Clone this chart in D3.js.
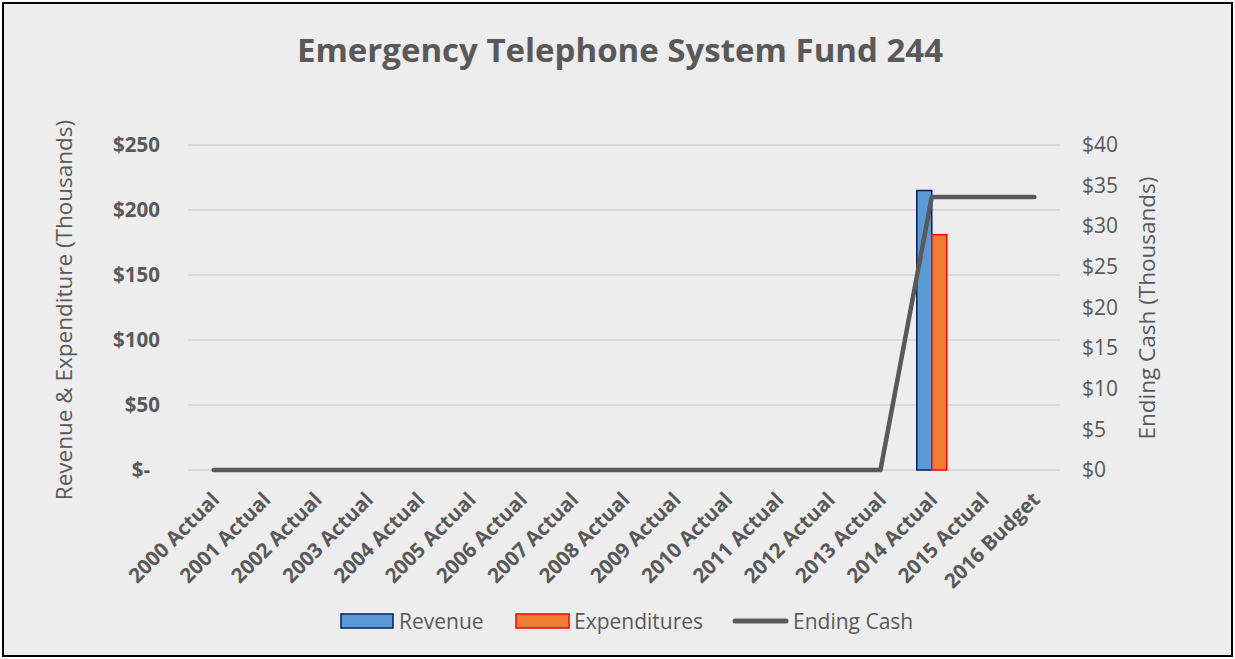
<!DOCTYPE html>
<html>
<head>
<meta charset="utf-8">
<script src="https://cdn.jsdelivr.net/npm/d3@7"></script>
<style>
  body { margin: 0; background: #fff; }
  svg text { font-family: "Open Sans", "Liberation Sans", sans-serif; fill: #595959; }
</style>
</head>
<body>
<div class="canvas"></div>
<script>
var width = 1235,
   height = 659;

// chart data
var categories = ['2000 Actual', '2001 Actual', '2002 Actual', '2003 Actual', '2004 Actual',
   '2005 Actual', '2006 Actual', '2007 Actual', '2008 Actual', '2009 Actual', '2010 Actual',
   '2011 Actual', '2012 Actual', '2013 Actual', '2014 Actual', '2015 Actual', '2016 Budget'];
var revenue = [0, 0, 0, 0, 0, 0, 0, 0, 0, 0, 0, 0, 0, 0, 215, 0, 0];
var expenditures = [0, 0, 0, 0, 0, 0, 0, 0, 0, 0, 0, 0, 0, 0, 181, 0, 0];
var endingCash = [0, 0, 0, 0, 0, 0, 0, 0, 0, 0, 0, 0, 0, 0, 33.6, 33.6, 33.6];
var leftTicks = [0, 50, 100, 150, 200, 250];
var rightTicks = [0, 5, 10, 15, 20, 25, 30, 35, 40];

var plot = {left: 188, right: 1060, top: 145, bottom: 470};

const svg = d3.select('.canvas')
   .append('svg')
   .attr('width', width)
   .attr('height', height);

// background + frame
svg.append('rect')
   .attr('x', 3).attr('y', 3)
   .attr('width', width - 6).attr('height', height - 6)
   .attr('fill', '#ededed')
   .attr('stroke', '#000')
   .attr('stroke-width', 2);

var x = d3.scaleBand()
   .domain(categories)
   .range([plot.left, plot.right])
   .paddingInner(0)
   .paddingOuter(0);

var y = d3.scaleLinear().domain([0, 250]).range([plot.bottom, plot.top]);
var y2 = d3.scaleLinear().domain([0, 40]).range([plot.bottom, plot.top]);

// gridlines
svg.append('g')
   .selectAll('line')
   .data(leftTicks)
   .enter().append('line')
      .attr('x1', plot.left)
      .attr('x2', plot.right)
      .attr('y1', d => y(d))
      .attr('y2', d => y(d))
      .attr('stroke', '#d9d9d9')
      .attr('stroke-width', 2);

// left axis
var leftAxis = svg.append('g')
   .attr('transform', `translate(${plot.left},0)`)
   .call(d3.axisLeft(y).tickValues(leftTicks).tickSize(0).tickPadding(28)
      .tickFormat(d => d === 0 ? '$-' : '$' + d));
leftAxis.select('.domain').remove();
leftAxis.selectAll('text')
   .style('font-size', '20.5px')
   .style('font-weight', 'bold')
   .attr('fill', '#595959')
   .attr('dx', d => d === 0 ? '-10px' : 0);

// right axis
var rightAxis = svg.append('g')
   .attr('transform', `translate(${plot.right},0)`)
   .call(d3.axisRight(y2).tickValues(rightTicks).tickSize(0).tickPadding(22)
      .tickFormat(d => '$' + d));
rightAxis.select('.domain').remove();
rightAxis.selectAll('text')
   .style('font-size', '21px')
   .attr('fill', '#595959');

// x labels
var xAxis = svg.append('g')
   .attr('transform', `translate(0,${plot.bottom})`)
   .call(d3.axisBottom(x).tickSize(0).tickPadding(0));
xAxis.select('.domain').remove();
xAxis.selectAll('text')
   .style('font-size', '20.5px')
   .style('font-weight', 'bold')
   .attr('fill', '#595959')
   .attr('text-anchor', 'end')
   .attr('y', 0)
   .attr('dy', 0)
   .attr('transform', 'translate(7,31) rotate(-45)');

// bars
var barW = 15;
svg.append('g')
   .selectAll('rect')
   .data(revenue.map((v, i) => ({cat: categories[i], v: v})).filter(d => d.v > 0))
   .enter().append('rect')
      .attr('x', d => x(d.cat) + x.bandwidth() / 2 - barW)
      .attr('y', d => y(d.v))
      .attr('width', barW)
      .attr('height', d => y(0) - y(d.v))
      .attr('fill', '#5b9bd5')
      .attr('stroke', '#002060')
      .attr('stroke-width', 1.5);

svg.append('g')
   .selectAll('rect')
   .data(expenditures.map((v, i) => ({cat: categories[i], v: v})).filter(d => d.v > 0))
   .enter().append('rect')
      .attr('x', d => x(d.cat) + x.bandwidth() / 2)
      .attr('y', d => y(d.v))
      .attr('width', barW)
      .attr('height', d => y(0) - y(d.v))
      .attr('fill', '#ed7d31')
      .attr('stroke', '#ff0000')
      .attr('stroke-width', 1.5);

// ending cash line
var line = d3.line()
   .x((d, i) => x(categories[i]) + x.bandwidth() / 2)
   .y(d => y2(d));

svg.append('path')
   .datum(endingCash)
   .attr('d', line)
   .attr('fill', 'none')
   .attr('stroke', '#595959')
   .attr('stroke-width', 4.5)
   .attr('stroke-linecap', 'round')
   .attr('stroke-linejoin', 'round');

// title
svg.append('text')
   .attr('x', 620)
   .attr('y', 62)
   .attr('text-anchor', 'middle')
   .style('font-size', '33px')
   .style('font-weight', 'bold')
   .text('Emergency Telephone System Fund 244');

// axis titles
svg.append('text')
   .attr('transform', 'translate(72,310) rotate(-90)')
   .attr('text-anchor', 'middle')
   .style('font-size', '22.5px')
   .text('Revenue & Expenditure (Thousands)');

svg.append('text')
   .attr('transform', 'translate(1155,308) rotate(-90)')
   .attr('text-anchor', 'middle')
   .style('font-size', '22.5px')
   .text('Ending Cash (Thousands)');

// legend
var legend = svg.append('g').attr('transform', 'translate(0,621)');
legend.append('rect').attr('x', 341).attr('y', -7).attr('width', 52).attr('height', 14)
   .attr('fill', '#5b9bd5').attr('stroke', '#002060').attr('stroke-width', 1.5);
legend.append('text').attr('x', 399).attr('y', 8).style('font-size', '21px').text('Revenue');
legend.append('rect').attr('x', 516).attr('y', -7).attr('width', 53).attr('height', 14)
   .attr('fill', '#ed7d31').attr('stroke', '#ff0000').attr('stroke-width', 1.5);
legend.append('text').attr('x', 574).attr('y', 8).style('font-size', '21px').text('Expenditures');
legend.append('line').attr('x1', 735).attr('x2', 786).attr('y1', 0).attr('y2', 0)
   .attr('stroke', '#595959').attr('stroke-width', 5).attr('stroke-linecap', 'round');
legend.append('text').attr('x', 793).attr('y', 8).style('font-size', '21px').text('Ending Cash');
</script>
</body>
</html>
